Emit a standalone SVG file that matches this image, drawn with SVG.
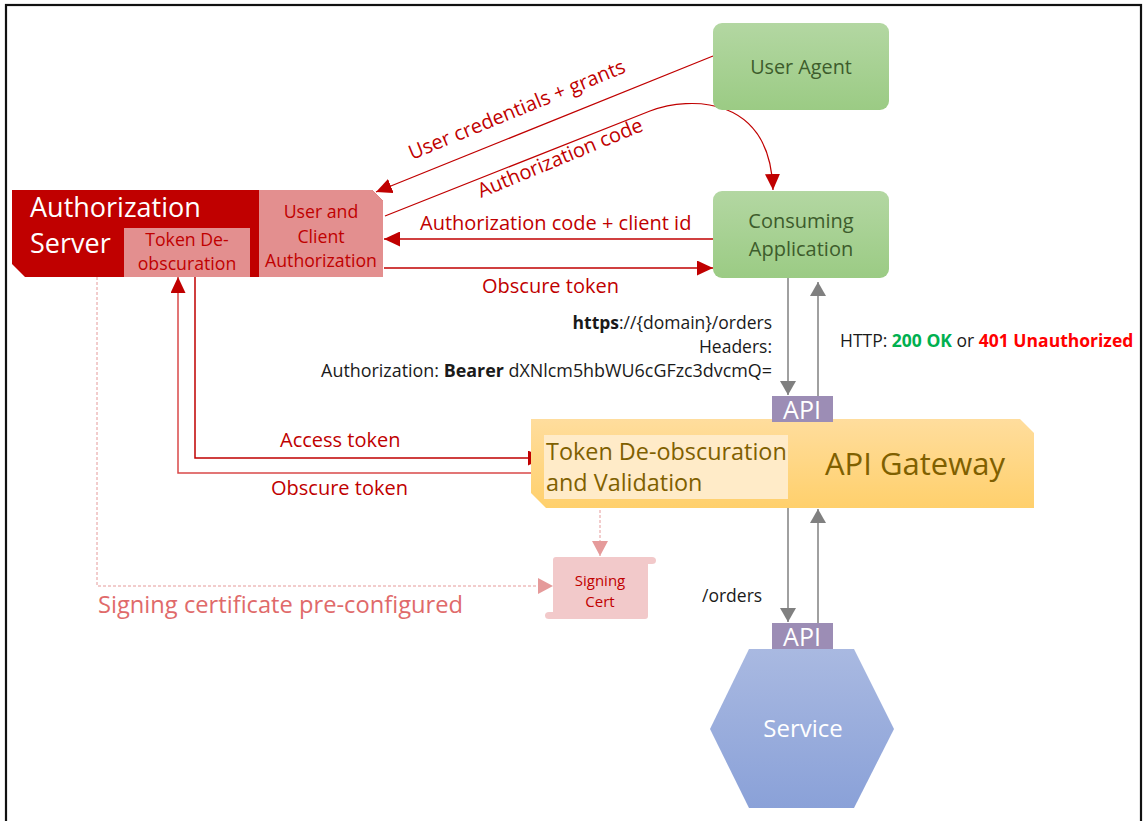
<svg xmlns="http://www.w3.org/2000/svg" width="1143" height="821" viewBox="0 0 1143 821">
<style>
text{font-family:"Open Sans","Liberation Sans",sans-serif}
.red{fill:#C00000}
.lbl{font-size:20px;fill:#C00000}
.blk{font-size:17.5px;fill:#1a1a1a}
.cr{stroke:#C00000;stroke-width:1.5;fill:none}
.cg{stroke:#808080;stroke-width:1.5;fill:none}
.cp{stroke:#E59A9A;stroke-width:1;fill:none;stroke-dasharray:3 2}
.api{fill:#9C8DB5}
.apit{font-size:25px;fill:#fff;text-anchor:middle}
</style>
<defs>
<linearGradient id="gG" x1="0" y1="0" x2="0" y2="1"><stop offset="0" stop-color="#B3D7A2"/><stop offset="1" stop-color="#9BCB84"/></linearGradient>
<linearGradient id="gY" x1="0" y1="0" x2="0" y2="1"><stop offset="0" stop-color="#FFDD9D"/><stop offset="1" stop-color="#FFD06C"/></linearGradient>
<linearGradient id="gB" x1="0" y1="0" x2="0" y2="1"><stop offset="0" stop-color="#A9B9E1"/><stop offset="1" stop-color="#8AA1D8"/></linearGradient>
<marker id="mR" markerUnits="userSpaceOnUse" markerWidth="16" markerHeight="15" refX="16" refY="7.5" orient="auto"><path d="M0,0 L16,7.5 L0,15 Z" fill="#C00000"/></marker>
<marker id="mG" markerUnits="userSpaceOnUse" markerWidth="16" markerHeight="16" refX="14" refY="8" orient="auto"><path d="M0,0 L14,8 L0,16 Z" fill="#808080"/></marker>
<marker id="mP" markerUnits="userSpaceOnUse" markerWidth="16" markerHeight="16" refX="15" refY="8" orient="auto"><path d="M0,0 L15,8 L0,16 Z" fill="#E59A9A"/></marker>
</defs>
<rect x="6" y="5" width="1135" height="900" fill="#fff" stroke="#111" stroke-width="2.2"/>

<g id="connectors">
<path class="cr" style="stroke-width:1.2" d="M713,56 L376,192" marker-end="url(#mR)"/>
<path class="cr" style="stroke-width:1.2" d="M385,216 L650,111 C690,96 770,95 773,190" marker-end="url(#mR)"/>
<path class="cr" d="M713,239 L384,239" marker-end="url(#mR)"/>
<path class="cr" d="M384,268 L713,268" marker-end="url(#mR)"/>
<path class="cr" d="M195,277 V458 H544" marker-end="url(#mR)"/>
<path class="cr" style="stroke:#D94848" d="M544,473 H178 V277" marker-end="url(#mR)"/>
<path class="cp" d="M97,277 V586 H553" marker-end="url(#mP)"/>
<path class="cp" d="M600,500 V556" marker-end="url(#mP)"/>
<path class="cg" d="M788,278 V395" marker-end="url(#mG)"/>
<path class="cg" d="M818,396 V282" marker-end="url(#mG)"/>
<path class="cg" d="M788,508 V622" marker-end="url(#mG)"/>
<path class="cg" d="M818,623 V509" marker-end="url(#mG)"/>
<text class="lbl" transform="translate(412,160) rotate(-22.3)">User credentials + grants</text>
<text class="lbl" transform="translate(481,198) rotate(-22.5)">Authorization code</text>
<text class="lbl" x="420" y="230">Authorization code + client id</text>
<text class="lbl" x="482" y="293">Obscure token</text>
<text class="lbl" x="280" y="447">Access token</text>
<text class="lbl" x="271" y="495">Obscure token</text>
<text x="98" y="613" style="font-size:23.7px;fill:#E06A6A">Signing certificate pre-configured</text>
<text class="blk" text-anchor="end" x="772" y="329"><tspan font-weight="700">https</tspan>://{domain}/orders</text>
<text class="blk" text-anchor="end" x="772" y="353">Headers:</text>
<text class="blk" text-anchor="end" x="772" y="377" style="font-size:17.9px">Authorization: <tspan font-weight="700">Bearer</tspan> dXNlcm5hbWU6cGFzc3dvcmQ=</text>
<text class="blk" x="840" y="347">HTTP: <tspan font-weight="700" fill="#00B050">200 OK</tspan> or <tspan font-weight="700" fill="#FF0000">401 Unauthorized</tspan></text>
<text class="blk" x="702" y="602">/orders</text>
</g>

<g id="auth-server">
<path d="M12,190 H372 L383,201 V277 H25 L12,264 Z" fill="#C00000"/>
<path d="M259,190 H372 L383,201 V277 H259 Z" fill="#E38F8F"/>
<rect x="124" y="228" width="126" height="49" fill="#E38F8F"/>
<text x="30" y="217" style="font-size:27px;fill:#fff">Authorization</text>
<text x="30" y="253" style="font-size:27px;fill:#fff">Server</text>
<g style="font-size:17.7px;fill:#C00000" text-anchor="middle">
<text x="321" y="218">User and</text>
<text x="321" y="243">Client</text>
<text x="321" y="267">Authorization</text>
<text x="187" y="246">Token De-</text>
<text x="187" y="270">obscuration</text>
</g>
</g>

<g id="user-agent">
<rect x="713" y="23" width="176" height="87" rx="9" fill="url(#gG)"/>
<text x="801" y="74" text-anchor="middle" style="font-size:19.8px;fill:#3D5C2C">User Agent</text>
</g>

<g id="consuming-app">
<rect x="713" y="191" width="176" height="87" rx="9" fill="url(#gG)"/>
<text x="801" y="228" text-anchor="middle" style="font-size:20px;fill:#3D5C2C">Consuming</text>
<text x="801" y="256" text-anchor="middle" style="font-size:20px;fill:#3D5C2C">Application</text>
</g>

<g id="api-gateway">
<path d="M531,419 H1020 L1034,433 V508 H546 L531,493 Z" fill="url(#gY)"/>
<rect x="544" y="435" width="244" height="64" fill="#FFEBC8"/>
<text x="546" y="460" style="font-size:23.4px;fill:#7F6000">Token De-obscuration</text>
<text x="546" y="491" style="font-size:23.4px;fill:#7F6000">and Validation</text>
<text x="825" y="475" style="font-size:31px;fill:#7F6000">API Gateway</text>
<rect class="api" x="772" y="396" width="61" height="26"/>
<text class="apit" x="802" y="419">API</text>
</g>

<g id="signing-cert">
<path d="M553,560 Q553,557 556,557 H652 Q656,557 656,560.5 Q656,564 652,564 H648 V616 Q648,619 645,619 H549 Q545,619 545,615.5 Q545,612 549,612 H553 Z" fill="#F2C9CA"/>
<text x="600" y="586" text-anchor="middle" style="font-size:15px;fill:#C00000">Signing</text>
<text x="600" y="607" text-anchor="middle" style="font-size:15px;fill:#C00000">Cert</text>
</g>

<g id="service">
<rect class="api" x="772" y="623" width="61" height="26"/>
<text class="apit" x="802" y="646">API</text>
<path d="M749,649 H854 L894,729 L854,808 H749 L710,729 Z" fill="url(#gB)"/>
<text x="803" y="737" text-anchor="middle" style="font-size:24px;fill:#fff">Service</text>
</g>
</svg>
